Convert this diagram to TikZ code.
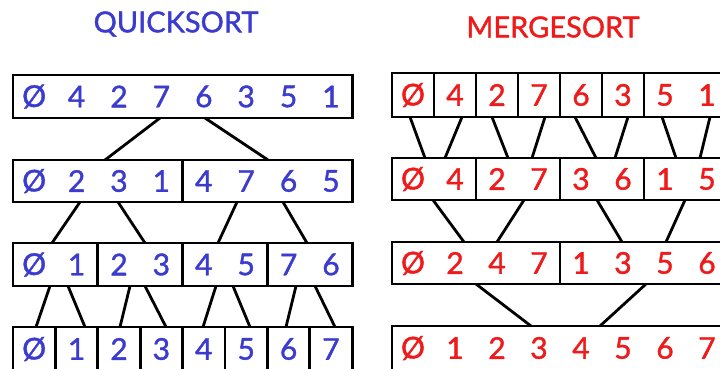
\documentclass[tikz,border=0pt]{standalone}
\usepackage{fontspec}
\setmainfont{Lato}
\newfontfamily\handfont{Lato}[FakeBold=1.3]
\usetikzlibrary{calc}
\definecolor{qblue}{HTML}{3B3BCF}
\definecolor{mred}{HTML}{F01A1A}
\begin{document}
\begin{tikzpicture}[x=1pt,y=-1pt,
  cellbox/.style={draw=black, line width=2.8pt, rectangle, inner sep=0pt, outer sep=0pt, anchor=north west},
  conn/.style={draw=black, line width=2.8pt},
  qdig/.style={text=qblue, font=\handfont\fontsize{30}{30}\selectfont, inner sep=0pt},
  mdig/.style={text=mred, font=\handfont\fontsize{30}{30}\selectfont, inner sep=0pt},
  title/.style={font=\handfont\fontsize{29}{29}\selectfont, inner sep=0pt}]
\useasboundingbox (0,0) rectangle (720,368);
\clip (0,0) rectangle (720,368);
\fill[white] (0,0) rectangle (720,368);

% titles
\node[title, text=qblue] (qt) at (176,24) {QUICKSORT};
\node[title, text=mred] (mt) at (553,27) {MERGESORT};

% ---------------- QUICKSORT ----------------
\node[cellbox, minimum width=339.2pt, minimum height=43pt] (q1) at (13,75) {};
\foreach \k in {0,1} \node[cellbox, minimum width=169.6pt, minimum height=42pt] (q2\k) at (13+169.6*\k,160) {};
\foreach \k in {0,...,3} \node[cellbox, minimum width=84.8pt, minimum height=43pt] (q3\k) at (13+84.8*\k,243) {};
\foreach \k in {0,...,7} \node[cellbox, minimum width=42.4pt, minimum height=46pt] (q4\k) at (13+42.4*\k,327) {};

\foreach \d [count=\i from 0] in {Ø,4,2,7,6,3,5,1} \node[qdig] (qa\i) at (34.2+42.4*\i,96.5) {\d};
\foreach \d [count=\i from 0] in {Ø,2,3,1,4,7,6,5} \node[qdig] (qb\i) at (34.2+42.4*\i,181) {\d};
\foreach \d [count=\i from 0] in {Ø,1,2,3,4,5,7,6} \node[qdig] (qc\i) at (34.2+42.4*\i,264.5) {\d};
\foreach \d [count=\i from 0] in {Ø,1,2,3,4,5,6,7} \node[qdig] (qd\i) at (34.2+42.4*\i,349) {\d};

\draw[conn] ([xshift=147pt]q1.south west) -- ([xshift=92pt]q20.north west);
\draw[conn] ([xshift=192pt]q1.south west) -- ([xshift=85.4pt]q21.north west);

\draw[conn] ([xshift=67pt]q20.south west) -- ([xshift=39pt]q30.north west);
\draw[conn] ([xshift=105pt]q20.south west) -- ([xshift=47.2pt]q31.north west);
\draw[conn] ([xshift=54.4pt]q21.south west) -- ([xshift=35.4pt]q32.north west);
\draw[conn] ([xshift=100.4pt]q21.south west) -- ([xshift=39.6pt]q33.north west);

\draw[conn] ([xshift=37pt]q30.south west) -- ([xshift=23pt]q40.north west);
\draw[conn] ([xshift=55pt]q30.south west) -- ([xshift=29.6pt]q41.north west);
\draw[conn] ([xshift=32.2pt]q31.south west) -- ([xshift=22.2pt]q42.north west);
\draw[conn] ([xshift=47.2pt]q31.south west) -- ([xshift=25.8pt]q43.north west);
\draw[conn] ([xshift=33.4pt]q32.south west) -- ([xshift=20.4pt]q44.north west);
\draw[conn] ([xshift=50.4pt]q32.south west) -- ([xshift=25pt]q45.north west);
\draw[conn] ([xshift=28.6pt]q33.south west) -- ([xshift=18.6pt]q46.north west);
\draw[conn] ([xshift=47.6pt]q33.south west) -- ([xshift=25.2pt]q47.north west);

% ---------------- MERGESORT ----------------
\foreach \k in {0,...,5} \node[cellbox, minimum width=42pt, minimum height=44pt] (m1\k) at (392+42*\k,73) {};
\node[cellbox, minimum width=84pt, minimum height=44pt] (m16) at (644,73) {};
\foreach \k in {0,...,3} \node[cellbox, minimum width=84pt, minimum height=42pt] (m2\k) at (392+84*\k,158) {};
\foreach \k in {0,1} \node[cellbox, minimum width=168pt, minimum height=42pt] (m3\k) at (392+168*\k,242) {};
\node[cellbox, minimum width=336pt, minimum height=46pt] (m4) at (392,326) {};

\foreach \d [count=\i from 0] in {Ø,4,2,7,6,3,5,1} \node[mdig] (ma\i) at (413+42*\i,95) {\d};
\foreach \d [count=\i from 0] in {Ø,4,2,7,3,6,1,5} \node[mdig] (mb\i) at (413+42*\i,179) {\d};
\foreach \d [count=\i from 0] in {Ø,2,4,7,1,3,5,6} \node[mdig] (mc\i) at (413+42*\i,263) {\d};
\foreach \d [count=\i from 0] in {Ø,1,2,3,4,5,6,7} \node[mdig] (md\i) at (413+42*\i,348) {\d};

\draw[conn] ([xshift=18pt]m10.south west) -- ([xshift=33pt]m20.north west);
\draw[conn] ([xshift=28pt]m11.south west) -- ([xshift=53pt]m20.north west);
\draw[conn] ([xshift=16pt]m12.south west) -- ([xshift=32pt]m21.north west);
\draw[conn] ([xshift=27pt]m13.south west) -- ([xshift=56pt]m21.north west);
\draw[conn] ([xshift=15pt]m14.south west) -- ([xshift=36pt]m22.north west);
\draw[conn] ([xshift=26pt]m15.south west) -- ([xshift=55pt]m22.north west);
\draw[conn] ([xshift=18pt]m16.south west) -- ([xshift=32pt]m23.north west);
\draw[conn] ([xshift=66pt]m16.south west) -- ([xshift=56pt]m23.north west);

\draw[conn] ([xshift=41pt]m20.south west) -- ([xshift=72pt]m30.north west);
\draw[conn] ([xshift=48pt]m21.south west) -- ([xshift=105pt]m30.north west);
\draw[conn] ([xshift=37pt]m22.south west) -- ([xshift=62pt]m31.north west);
\draw[conn] ([xshift=41pt]m23.south west) -- ([xshift=106pt]m31.north west);

\draw[conn] ([xshift=84pt]m30.south west) -- ([xshift=139pt]m4.north west);
\draw[conn] ([xshift=86pt]m31.south west) -- ([xshift=208pt]m4.north west);
\end{tikzpicture}
\end{document}
